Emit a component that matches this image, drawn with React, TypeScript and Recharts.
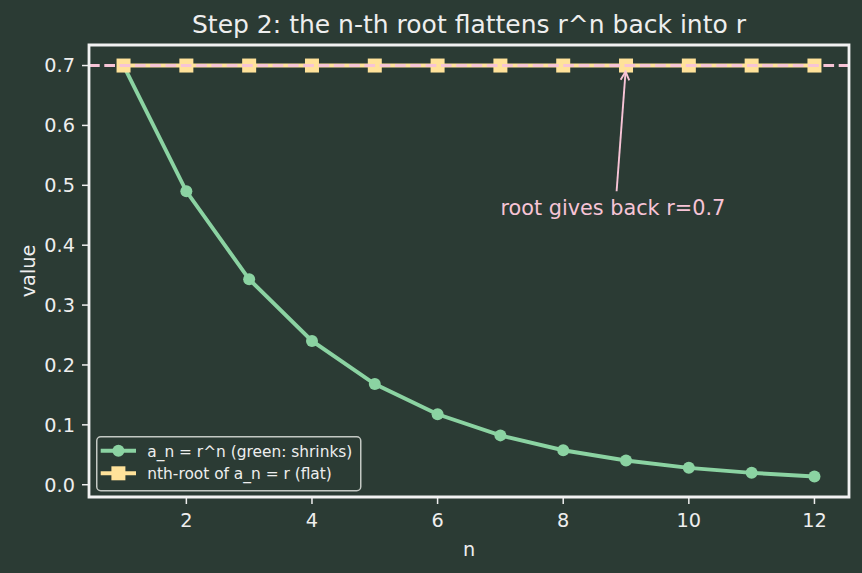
import React from 'react';
import { LineChart, Line, XAxis, YAxis, ReferenceLine, ReferenceArea, ReferenceDot } from 'recharts';

// ---- data ----
const nValues = [1, 2, 3, 4, 5, 6, 7, 8, 9, 10, 11, 12];
const shrinkingValues = [0.7, 0.49, 0.343, 0.2401, 0.1681, 0.1176, 0.0824, 0.0576, 0.0404, 0.0282, 0.0198, 0.0138];
const rootValues = [0.7, 0.7, 0.7, 0.7, 0.7, 0.7, 0.7, 0.7, 0.7, 0.7, 0.7, 0.7];
const xTicks = [2, 4, 6, 8, 10, 12];
const yTicks = [0, 0.1, 0.2, 0.3, 0.4, 0.5, 0.6, 0.7];
const xDomain = [0.45, 12.55];
const yDomain = [-0.0205, 0.7343];
const rValue = 0.7;

const titleText = 'Step 2: the n-th root flattens r^n back into r';
const xLabel = 'n';
const yLabel = 'value';
const seriesNames = ['a_n = r^n (green: shrinks)', 'nth-root of a_n = r (flat)'];
const annotText = 'root gives back r=0.7';
const annotTextAt = { n: 7, v: 0.45 };
const arrowFrom = { n: 8.85, v: 0.49 };
const arrowTo = { n: 9, v: 0.7 };

const data = nValues.map((n, i) => ({ n, an: shrinkingValues[i], root: rootValues[i] }));

// ---- style ----
const BG = '#2b3b34';
const FG = '#eeeeee';
const GREEN = '#8bd3a2';
const YELLOW = '#ffe29a';
const PINK = '#f7c4d6';
const FONT = '"DejaVu Sans", sans-serif';

const SquareDot = (p: any) => {
  if (p.cx == null || p.cy == null) return <g key={p.key} />;
  return <rect key={p.key} x={p.cx - 7} y={p.cy - 7} width={14} height={14} fill={YELLOW} />;
};

const CircleDot = (p: any) => {
  if (p.cx == null || p.cy == null) return <g key={p.key} />;
  return <circle key={p.key} cx={p.cx} cy={p.cy} r={6} fill={GREEN} />;
};

const Arrow = (p: any) => {
  const { x1, y1, x2, y2 } = p;
  const dx = x2 - x1;
  const dy = y2 - y1;
  const L = Math.hypot(dx, dy) || 1;
  const ux = dx / L;
  const uy = dy / L;
  const shrink = 6;
  const tx = x2 - ux * shrink;
  const ty = y2 - uy * shrink;
  const hl = 8.5;
  const hw = 4.3;
  const bx = tx - ux * hl;
  const by = ty - uy * hl;
  const px = -uy;
  const py = ux;
  return (
    <g>
      <line x1={x1} y1={y1} x2={tx} y2={ty} stroke={PINK} strokeWidth={1.9} />
      <polyline
        points={`${bx + px * hw},${by + py * hw} ${tx},${ty} ${bx - px * hw},${by - py * hw}`}
        fill="none"
        stroke={PINK}
        strokeWidth={1.9}
      />
    </g>
  );
};

const AnnotText = (p: any) => {
  if (p.cx == null) return <g />;
  return (
    <text x={p.cx} y={p.cy} fill={PINK} fontSize={20.8} fontFamily={FONT} textAnchor="start">
      {annotText}
    </text>
  );
};

export default function App() {
  const refLineProps: any = { zIndex: 1000 };
  return (
    <div style={{ position: 'absolute', left: 0, top: 0, width: 862, height: 573, background: BG, fontFamily: FONT }}>
      <LineChart
        width={862}
        height={573}
        data={data}
        margin={{ top: 45, right: 13, left: 0, bottom: 0 }}
        style={{ fontFamily: FONT }}
      >
        <XAxis
          dataKey="n"
          type="number"
          domain={xDomain}
          ticks={xTicks}
          allowDataOverflow
          height={76}
          axisLine={false}
          tickSize={7}
          tickMargin={9}
          tickLine={{ stroke: FG, strokeWidth: 1.5 }}
          tick={{ fill: FG, fontSize: 19.3, fontFamily: FONT }}
          label={{
            content: () => (
              <text x={469} y={556} fill={FG} fontSize={19.3} fontFamily={FONT} textAnchor="middle">
                {xLabel}
              </text>
            ),
          }}
        />
        <YAxis
          type="number"
          domain={yDomain}
          ticks={yTicks}
          allowDataOverflow
          width={89}
          axisLine={false}
          tickSize={7}
          tickMargin={7}
          tickLine={{ stroke: FG, strokeWidth: 1.5 }}
          tick={{ fill: FG, fontSize: 19.3, fontFamily: FONT }}
          tickFormatter={(v: number) => v.toFixed(1)}
          label={{
            content: () => (
              <text
                x={35}
                y={271}
                transform="rotate(-90 35 271)"
                fill={FG}
                fontSize={19.3}
                fontFamily={FONT}
                textAnchor="middle"
              >
                {yLabel}
              </text>
            ),
          }}
        />
        <Line
          dataKey="an"
          stroke={GREEN}
          strokeWidth={3.9}
          dot={CircleDot}
          activeDot={false}
          isAnimationActive={false}
        />
        <Line
          dataKey="root"
          stroke={YELLOW}
          strokeWidth={3.9}
          dot={SquareDot}
          activeDot={false}
          isAnimationActive={false}
        />
        <ReferenceLine
          y={rValue}
          stroke={PINK}
          strokeWidth={2.9}
          strokeDasharray="10.7 4.6"
          ifOverflow="visible"
          {...refLineProps}
        />
        <ReferenceLine
          segment={[
            { x: arrowFrom.n, y: arrowFrom.v },
            { x: arrowTo.n, y: arrowTo.v },
          ]}
          shape={Arrow}
          ifOverflow="visible"
          {...refLineProps}
        />
        <ReferenceDot x={annotTextAt.n} y={annotTextAt.v} r={0} shape={AnnotText} ifOverflow="visible" {...refLineProps} />
        <ReferenceArea
          x1={xDomain[0]}
          x2={xDomain[1]}
          y1={yDomain[0]}
          y2={yDomain[1]}
          fill="none"
          fillOpacity={0}
          stroke="#f2f2f2"
          strokeWidth={2.8}
          ifOverflow="visible"
          {...refLineProps}
        />
      </LineChart>
      <div
        style={{
          position: 'absolute',
          left: 89,
          top: 10,
          width: 760,
          textAlign: 'center',
          fontSize: 25,
          lineHeight: '29px',
          color: FG,
          fontFamily: FONT,
          whiteSpace: 'nowrap',
        }}
      >
        {titleText}
      </div>
      <svg style={{ position: 'absolute', left: 96, top: 436 }} width={266} height={56}>
        <rect x={0.75} y={0.75} width={264} height={54} rx={4} ry={4} fill={BG} stroke="#c4c9c4" strokeWidth={1.5} />
        <line x1={4.7} y1={14.7} x2={40} y2={14.7} stroke={GREEN} strokeWidth={3.9} />
        <circle cx={22.4} cy={14.7} r={6} fill={GREEN} />
        <text x={51.3} y={20.7} fill={FG} fontSize={15.4} fontFamily={FONT}>
          {seriesNames[0]}
        </text>
        <line x1={4.7} y1={37.3} x2={40} y2={37.3} stroke={YELLOW} strokeWidth={3.9} />
        <rect x={15.4} y={30.3} width={14} height={14} fill={YELLOW} />
        <text x={51.3} y={43.3} fill={FG} fontSize={15.4} fontFamily={FONT}>
          {seriesNames[1]}
        </text>
      </svg>
    </div>
  );
}
